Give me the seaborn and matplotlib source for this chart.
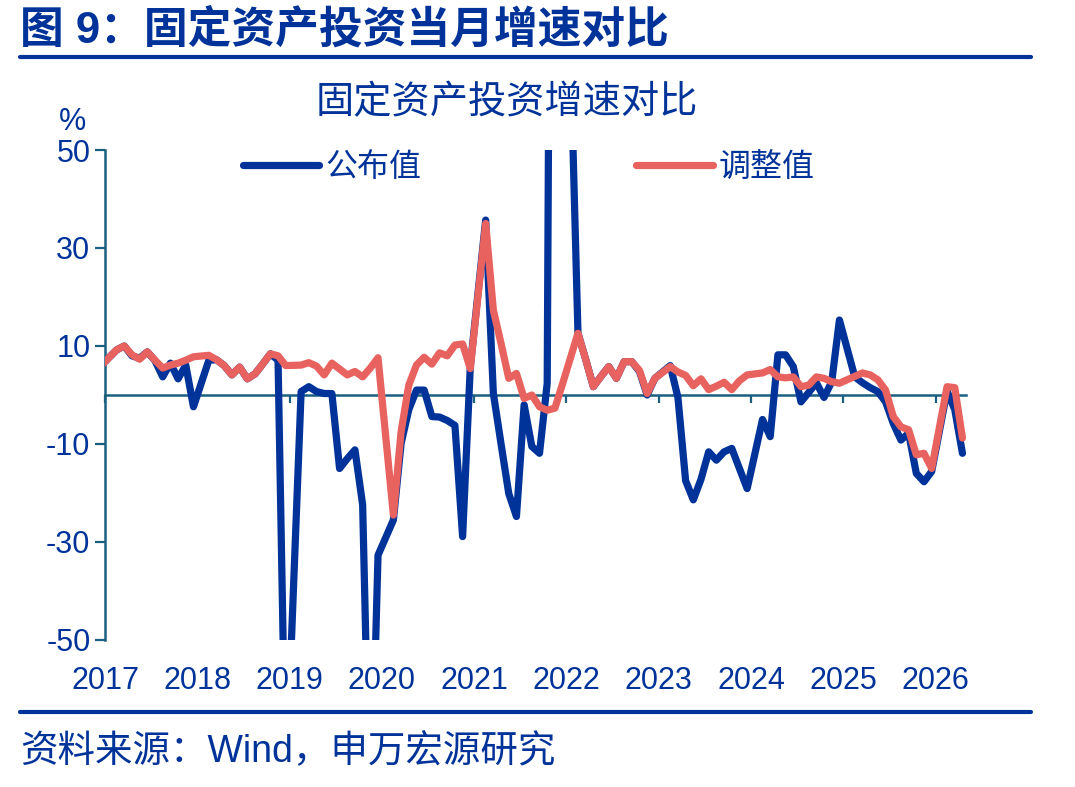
import pandas as pd
import seaborn as sns
import matplotlib.pyplot as plt
from matplotlib.lines import Line2D

# Jan and Feb are reported together, so each year starts in Feb
years = list(range(2017, 2026))
months = ["2016-12"] + [f"{y}-{m:02d}" for y in years for m in range(2, 13)] + ["2026-02", "2026-03", "2026-04"]

# 公布值 (monthly growth from published cumulative data), %
published = [6.0,
             9.2, 10.0, 8.0, 7.5, 8.8, 7.0, 3.7, 6.5, 3.3, 6.1, -2.4,
             7.1, 7.2, 6.0, 4.1, 5.7, 3.3, 4.3, 6.3, 8.4, 7.1, -80.0,
             0.7, 1.7, 0.7, 0.3, 0.3, -15.0, -13.0, -11.2, -22.4, -90.0, -32.7,
             -25.5, -9.9, -3.0, 1.0, 1.0, -4.4, -4.5, -5.2, -6.2, -28.9, 5.8,
             35.7, 0.3, -10.0, -20.1, -24.8, -2.0, -10.5, -11.9, 2.4, 300.0, 130.0,
             12.6, 7.3, 1.7, 3.8, 5.8, 3.4, 6.8, 6.8, 4.8, 0.0, 3.4,
             6.0, -0.5, -17.5, -21.4, -17.2, -11.6, -13.3, -11.6, -10.9, -15.0, -19.1,
             -5.0, -8.5, 8.2, 8.2, 5.8, -1.4, 0.5, 2.5, -0.5, 2.7, 15.3,
             3.7, 2.5, 1.5, 0.7, -1.4, -5.8, -9.2, -7.8, -16.0, -17.7, -15.6,
             0.8, -3.0, -11.9]

# 调整值 (adjusted monthly growth), %
adjusted = [6.0,
            9.2, 10.0, 8.2, 7.3, 8.8, 7.1, 5.5, 6.1, 6.5, 7.1, 7.8,
            8.1, 7.2, 6.0, 4.1, 5.7, 3.3, 4.3, 6.3, 8.4, 8.0, 6.0,
            6.1, 6.6, 5.9, 4.1, 6.5, 5.3, 4.1, 4.8, 3.7, 5.5, 7.6,
            -24.5, -7.5, 2.0, 6.1, 7.7, 6.3, 8.6, 8.0, 10.2, 10.4, 5.4,
            35.0, 17.3, 10.5, 3.4, 4.4, -0.7, 0.0, -2.4, -3.1, -2.7, 2.3,
            12.6, 7.3, 1.7, 3.8, 5.8, 3.4, 6.8, 6.8, 5.0, 0.3, 3.4,
            5.8, 4.7, 4.0, 1.9, 3.3, 1.1, 1.8, 2.6, 1.1, 2.9, 4.1,
            4.5, 5.2, 3.7, 3.5, 3.7, 1.7, 2.0, 3.7, 3.4, 2.7, 2.4,
            3.8, 4.5, 4.1, 3.1, 1.0, -4.4, -6.5, -7.1, -12.2, -11.9, -15.0,
            1.7, 1.5, -8.8]

series_names = ["公布值", "调整值"]
year_ticks = list(range(2017, 2027))
y_ticks = [-50, -30, -10, 10, 30, 50]

blue = "#003399"
red = "#E8625F"
teal = "#1B5F80"

df = pd.DataFrame({
    "month": months * 2,
    "value": published + adjusted,
    "series": [series_names[0]] * len(months) + [series_names[1]] * len(months),
})
per = pd.PeriodIndex(df["month"], freq="M")
# place each month at its middle on a year axis
df["t"] = per.year + (per.month - 0.5) / 12

sns.set_theme(style="white")
plt.rcParams["font.family"] = ["Liberation Sans", "Noto Sans CJK SC"]

fig = plt.figure(figsize=(10.75, 7.87), dpi=100)
ax = fig.add_axes([0.0977, 0.1868, 0.8009, 0.6226])

sns.lineplot(data=df, x="t", y="value", hue="series", hue_order=series_names,
             palette=[blue, red], estimator=None, sort=False, linewidth=5.2,
             solid_capstyle="round", solid_joinstyle="round", zorder=3,
             legend=False, ax=ax)

ax.set_xlim(2017, 2026.33)
ax.set_ylim(-50, 50)
ax.set_xlabel("")
ax.set_ylabel("")

# zero line with year ticks
ax.spines["bottom"].set_position(("data", 0))
ax.spines["bottom"].set_color(teal)
ax.spines["bottom"].set_linewidth(1.8)
ax.spines["left"].set_color(teal)
ax.spines["left"].set_linewidth(1.8)
ax.spines["top"].set_visible(False)
ax.spines["right"].set_visible(False)
ax.set_xticks(year_ticks)
ax.tick_params(axis="x", bottom=True, direction="out", length=6, width=1.6,
               color=teal, labelbottom=False)

ax.set_yticks(y_ticks)
ax.set_yticklabels([str(v) for v in y_ticks])
ax.tick_params(axis="y", left=True, direction="out", length=7.5, width=1.6,
               color=teal, pad=3, labelsize=22, labelcolor=blue)

# year labels at the bottom of the plot
lab = ax.secondary_xaxis("bottom")
lab.set_xticks(year_ticks)
lab.set_xticklabels([str(y) for y in year_ticks])
lab.spines["bottom"].set_visible(False)
lab.tick_params(axis="x", length=0, pad=19, labelsize=22, labelcolor=blue)

handles = ax.get_lines()[:2]
ax.legend(handles, series_names, ncol=2, loc="center left",
          bbox_to_anchor=(0.16, 0.963), frameon=False, fontsize=23,
          handlelength=2.4, handletextpad=0.2, columnspacing=6.7,
          borderpad=0, borderaxespad=0, labelcolor=blue)

fig.text(20 / 1075, 1 - 30 / 787, "图 9：固定资产投资当月增速对比", fontsize=31.5,
         fontweight="bold", color=blue, ha="left", va="center")
fig.add_artist(Line2D([20 / 1075, 1031 / 1075], [1 - 57 / 787] * 2, lw=3, color=blue))
fig.text(507 / 1075, 1 - 103 / 787, "固定资产投资增速对比", fontsize=27.5,
         color=blue, ha="center", va="center")
fig.text(72 / 1075, 1 - 122 / 787, "%", fontsize=22, color=blue,
         ha="center", va="center")
fig.add_artist(Line2D([20 / 1075, 1031 / 1075], [1 - 712 / 787] * 2, lw=3, color=blue))
fig.text(20 / 1075, 1 - 752 / 787, "资料来源：Wind，申万宏源研究", fontsize=27,
         color=blue, ha="left", va="center")

fig.savefig("out.png", dpi=100)
